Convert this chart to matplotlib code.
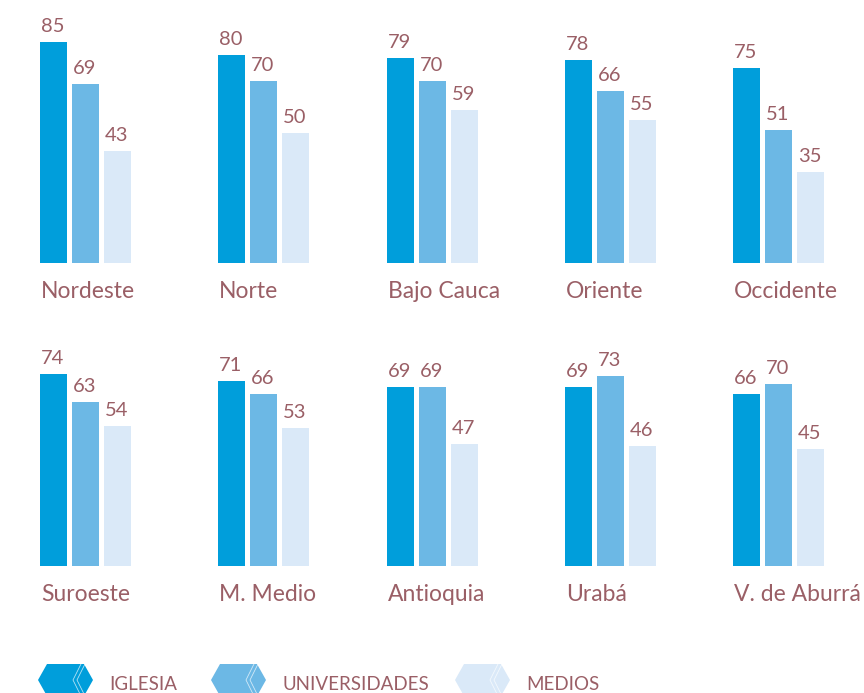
import matplotlib.pyplot as plt
from matplotlib.patches import Polygon
from matplotlib.lines import Line2D

# values per region: iglesia, universidades, medios
regions = ["Nordeste", "Norte", "Bajo Cauca", "Oriente", "Occidente",
           "Suroeste", "M. Medio", "Antioquia", "Urabá", "V. de Aburrá"]
iglesia = [85, 80, 79, 78, 75, 74, 71, 69, 69, 66]
universidades = [69, 70, 70, 66, 51, 63, 66, 69, 73, 70]
medios = [43, 50, 59, 55, 35, 54, 53, 47, 46, 45]
series_names = ["IGLESIA", "UNIVERSIDADES", "MEDIOS"]

colors = ["#009edb", "#6cb8e5", "#dae9f8"]
text_color = "#9a5f66"
plt.rcParams['font.family'] = ['Lato', 'DejaVu Sans']

W, H = 864, 693
fig = plt.figure(figsize=(W / 100, H / 100), dpi=100)

group_x = [40, 218, 387, 565, 733]   # left edge of each group (px)
bar_w, step = 27, 32
baselines = [263, 566]               # px from top
px_per_unit = 2.6

for row in range(2):
    base = baselines[row]
    ax = fig.add_axes([0, (H - base) / H, 1, 100 * px_per_unit / H])
    ax.set_xlim(0, W)
    ax.set_ylim(0, 100)
    ax.axis('off')
    for g in range(5):
        i = row * 5 + g
        for s, vals in enumerate([iglesia, universidades, medios]):
            x = group_x[g] + s * step
            ax.bar(x, vals[i], width=bar_w, align='edge', color=colors[s],
                   clip_on=False)
            ax.annotate(str(vals[i]), (x + bar_w / 2 - 1, vals[i]),
                        xytext=(0, 5), textcoords='offset points',
                        ha='center', va='bottom', fontsize=14.5,
                        color=text_color)
        ax.text(group_x[g] + 1, -11, regions[i], ha='left', va='center',
                fontsize=16.5, color=text_color, clip_on=False)

# legend: hexagon-like swatches at the bottom
def fx(px):
    return px / W

def fy(py):
    return (H - py) / H

legend_x = [38, 211, 455]
label_x = [109, 283, 526]
cy = 680
for k in range(3):
    x0 = legend_x[k]
    pts = [(x0, cy), (x0 + 9, cy - 16), (x0 + 46, cy - 16), (x0 + 55, cy),
           (x0 + 46, cy + 16), (x0 + 9, cy + 16)]
    fig.patches.append(Polygon([(fx(a), fy(b)) for a, b in pts], closed=True,
                               transform=fig.transFigure, color=colors[k],
                               lw=0))
    # thin white chevrons inside the swatch
    for off in (35, 39):
        fig.lines.append(Line2D([fx(x0 + off + 8), fx(x0 + off), fx(x0 + off + 8)],
                                [fy(cy - 16), fy(cy), fy(cy + 16)],
                                transform=fig.transFigure, color="white",
                                lw=0.6, alpha=0.7))
    fig.text(fx(label_x[k]), fy(cy + 4), series_names[k], ha='left',
             va='center', fontsize=13.5, color=text_color)

fig.savefig("out.png", dpi=100)
